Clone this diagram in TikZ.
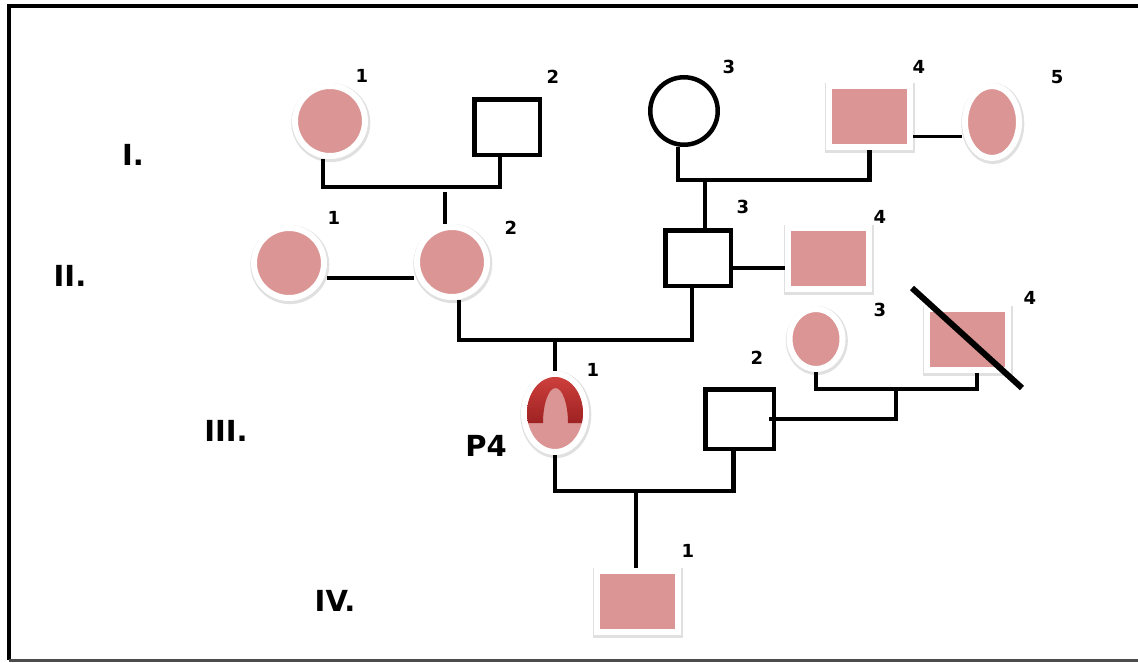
\documentclass[tikz,border=0pt]{standalone}
\usepackage{fontspec}
\setmainfont{DejaVu Sans}
\usepackage{tikz}
\usetikzlibrary{shapes.geometric}
\definecolor{affectedcolor}{RGB}{218,149,148}
\definecolor{archlight}{RGB}{212,68,64}
\definecolor{archdark}{RGB}{158,34,34}

\begin{document}
\begin{tikzpicture}[
    x=1pt, y=-1pt,
    font=\bfseries,
    haloshadow/.style={preaction={draw=black, draw opacity=.12, line width=9pt, transform canvas={xshift=.8pt, yshift=-1.6pt}}},
    affmale/.style={rectangle, fill=affectedcolor, draw=white, line width=6pt, minimum width=81pt, minimum height=61pt, inner sep=0pt, haloshadow},
    afffemale/.style={circle, fill=affectedcolor, draw=white, line width=6pt, minimum size=70pt, inner sep=0pt, haloshadow},
    affoval/.style={ellipse, fill=affectedcolor, draw=white, line width=6pt, inner sep=0pt, haloshadow},
    unmale/.style={rectangle, draw=black, fill=white, line width=4.5pt, minimum width=65.5pt, minimum height=55.5pt, inner sep=0pt},
    unfemale/.style={circle, draw=black, fill=white, line width=4.5pt, minimum size=67.5pt, inner sep=0pt},
    num/.style={font=\fontsize{18}{20}\selectfont\bfseries},
    gen/.style={font=\fontsize{29}{32}\selectfont\bfseries},
    bond/.style={draw=black, line width=4.5pt},
    mate/.style={draw=black, line width=3.2pt},
    slash/.style={draw=black, line width=6pt}
]
    \useasboundingbox (0,0) rectangle (1138,662);
    \draw[draw=black, line width=4pt] (1150,6) -- (9,6) -- (9,660);
    \draw[draw=black!70, line width=3pt] (9,660) -- (1150,660);

    % generation labels
    \node[gen] (gI) at (133,155) {I.};
    \node[gen] (gII) at (70,276) {II.};
    \node[gen] (gIII) at (226,431) {III.};
    \node[gen] (gIV) at (335,601) {IV.};

    % generation I
    \node[afffemale] (i1) at (330,121) {};
    \node[unmale] (i2) at (507,127) {};
    \node[unfemale] (i3) at (684,111) {};
    \node[affmale] (i4) at (869.5,116.5) {};
    \node[affoval, minimum width=54pt, minimum height=72pt] (i5) at (992,122) {};

    % generation II
    \node[afffemale] (ii1) at (289,263) {};
    \node[afffemale] (ii2) at (452,262) {};
    \node[unmale] (ii3) at (698,258) {};
    \node[affmale] (ii4) at (828.5,258.5) {};

    % generation III
    \node[affoval, minimum width=62pt, minimum height=78pt] (iii1) at (555,413) {};
    \node[unmale, minimum width=68.5pt, minimum height=59.5pt] (iii2) at (739.5,419) {};
    \node[affoval, minimum width=53pt, minimum height=60pt] (iii3) at (816,339) {};
    \node[affmale] (iii4) at (967,339) {};

    % generation IV
    \node[affmale] (iv1) at (637.5,601.5) {};

    % proband arch
    \begin{scope}
        \clip (iii1.center) ellipse[x radius=28, y radius=36];
        \shade[top color=archlight, bottom color=archdark] (520,423) -- (520,370) -- (590,370) -- (590,423) -- (568,423) arc[start angle=0, end angle=-180, x radius=12.5, y radius=35] -- cycle;
    \end{scope}

    % numbers
    \node[num] (n-i1) at (362,76) {1};
    \node[num] (n-i2) at (553,77) {2};
    \node[num] (n-i3) at (729,67) {3};
    \node[num] (n-i4) at (919,67) {4};
    \node[num] (n-i5) at (1057,77) {5};
    \node[num] (n-ii1) at (334,218) {1};
    \node[num] (n-ii2) at (511,228) {2};
    \node[num] (n-ii3) at (743,207) {3};
    \node[num] (n-ii4) at (880,217) {4};
    \node[num] (n-iii1) at (593,370) {1};
    \node[num] (n-iii2) at (757,358) {2};
    \node[num] (n-iii3) at (880,310) {3};
    \node[num] (n-iii4) at (1030,298) {4};
    \node[num] (n-iv1) at (688,551) {1};
    \node[gen] (p4) at (486,446) {P4};

    % junctions
    \coordinate (cI1) at (445,187);
    \coordinate (cI2) at (705,180);
    \coordinate (cII) at (555,340);
    \coordinate (cIII) at (896,389);
    \coordinate (cIV) at (636,491);

    \draw[bond] ([xshift=-7pt]i1.south) |- (cI1) -| ([xshift=-7pt]i2.south);
    \draw[bond] ([yshift=-5pt]cI1) -- (cI1 |- ii2.north);
    \draw[bond] ([xshift=-6pt]i3.south) |- (cI2) -| (i4.south);
    \draw[bond] (cI2) -- (cI2 |- ii3.north);
    \draw[mate] ([yshift=-20pt]i4.east) -- ([yshift=-20pt]i4.east -| i5.west);

    \draw[bond] ([yshift=-15pt]ii1.east) -- ([yshift=-15pt]ii1.east -| ii2.west);
    \draw[mate] ([yshift=-10pt]ii3.east) -- ([yshift=-10pt]ii3.east -| ii4.west);
    \draw[bond] ([xshift=7pt]ii2.south) |- (cII) -| ([xshift=-6pt]ii3.south);
    \draw[bond] (cII) -- (iii1.north);

    \draw[bond] (iii3.south) |- (cIII) -| ([xshift=10pt]iii4.south);
    \draw[bond] (cIII) |- ([xshift=-7pt]iii2.east);
    \draw[slash] ([xshift=-55pt,yshift=51pt]iii4.center) -- ([xshift=55pt,yshift=-49pt]iii4.center);

    \draw[bond] (iii1.south) |- (cIV) -| ([xshift=-6pt]iii2.south);
    \draw[bond] (cIV) -- (cIV |- iv1.north);
\end{tikzpicture}
\end{document}
